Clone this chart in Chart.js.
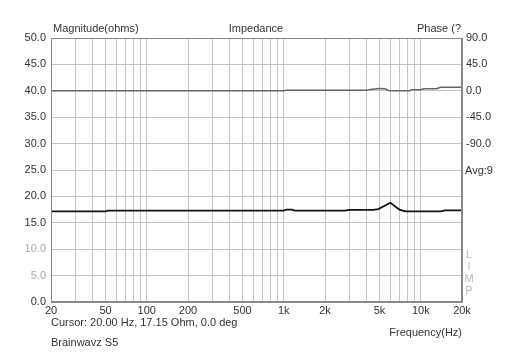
<!DOCTYPE html>
<html>
<head>
<meta charset="utf-8">
<script src="https://cdn.jsdelivr.net/npm/chart.js@4"></script>
<style>
  html, body { margin: 0; padding: 0; background: #fff; }
  #wrap { width: 512px; height: 358px; }
</style>
</head>
<body>
<div id="wrap"><canvas id="chart" width="512" height="358"></canvas></div>
<script>
// values
const magFreq = [20, 50, 52, 1000, 1050, 1150, 1200, 2800, 3000, 4500, 4900, 6000, 7000, 7700, 14000, 15000, 20000];
const magOhm  = [17.15, 17.15, 17.3, 17.3, 17.5, 17.5, 17.3, 17.3, 17.45, 17.45, 17.6, 18.8, 17.5, 17.15, 17.15, 17.35, 17.35];

const phaseFreq = [20, 1000, 1050, 4000, 4300, 5000, 5500, 5900, 8300, 8500, 10000, 10500, 13000, 14000, 20000];
const phaseDeg  = [0, 0, 0.8, 0.8, 2.4, 4, 3.5, 0, 0, 2, 2, 3.5, 3.5, 6, 6];

const gridFreqs = [20, 30, 40, 50, 60, 70, 80, 90, 100, 200, 300, 400, 500, 600, 700, 800, 900,
                   1000, 2000, 3000, 4000, 5000, 6000, 7000, 8000, 9000, 10000, 20000];
const freqLabels = { 20: '20', 50: '50', 100: '100', 200: '200', 500: '500', 1000: '1k',
                     2000: '2k', 5000: '5k', 10000: '10k', 20000: '20k' };
const phaseTicks = [90, 45, 0, -45, -90];

const textColor = '#333';
const font = { family: '"Liberation Sans", Arial, sans-serif', size: 11 };

const extraText = {
    id: 'extraText',
    afterDraw(chart) {
        const ctx = chart.ctx;
        const a = chart.chartArea;
        ctx.save();
        ctx.strokeStyle = '#888';
        ctx.lineWidth = 1;
        ctx.strokeRect(a.left + 0.5, a.top + 0.5, a.right - a.left - 1, a.bottom - a.top - 1);
        ctx.font = '11px "Liberation Sans", Arial, sans-serif';
        ctx.fillStyle = textColor;
        ctx.textBaseline = 'middle';
        ctx.textAlign = 'left';
        ctx.fillText('Magnitude(ohms)', 53, 29);
        ctx.fillText('Cursor: 20.00 Hz, 17.15 Ohm, 0.0 deg', 51, 323);
        ctx.fillText('Brainwavz S5', 51, 343);
        ctx.fillText('Avg:9', 465, 171);
        ctx.textAlign = 'center';
        ctx.fillText('Impedance', 256, 29);
        ctx.textAlign = 'right';
        ctx.fillText('Phase (?', 461, 29);
        ctx.fillText('Frequency(Hz)', 462, 333);
        ctx.textAlign = 'center';
        ctx.fillStyle = '#bbb';
        ['L', 'I', 'M', 'P'].forEach((c, i) => ctx.fillText(c, 469, 255 + i * 12));
        ctx.restore();
    }
};

new Chart(document.getElementById('chart'), {
    type: 'line',
    data: {
        datasets: [{
            label: 'Phase',
            data: phaseFreq.map((f, i) => ({ x: f, y: phaseDeg[i] })),
            yAxisID: 'y1',
            borderColor: '#666',
            borderWidth: 1.5,
            pointRadius: 0,
            tension: 0
        }, {
            label: 'Magnitude',
            data: magFreq.map((f, i) => ({ x: f, y: magOhm[i] })),
            yAxisID: 'y',
            borderColor: '#111',
            borderWidth: 1.8,
            pointRadius: 0,
            tension: 0
        }]
    },
    options: {
        responsive: false,
        animation: false,
        layout: { padding: { top: 38, left: 0, right: 0, bottom: 0 } },
        plugins: { legend: { display: false }, tooltip: { enabled: false } },
        scales: {
            x: {
                type: 'logarithmic',
                min: 20,
                max: 20000,
                afterBuildTicks: s => { s.ticks = gridFreqs.map(v => ({ value: v })); },
                afterFit: s => { s.height = 56; },
                grid: { color: '#c4c4c4', drawTicks: false },
                border: { color: '#888' },
                ticks: {
                    autoSkip: false,
                    maxRotation: 0,
                    padding: 2,
                    color: textColor,
                    font,
                    callback: v => freqLabels[v] || ''
                }
            },
            y: {
                position: 'left',
                min: 0,
                max: 50,
                afterFit: s => { s.width = 51; },
                grid: { color: '#c4c4c4', drawTicks: false },
                border: { color: '#888' },
                ticks: {
                    stepSize: 5,
                    padding: 5,
                    font,
                    color: c => (c.tick.value === 5 || c.tick.value === 10) ? '#aaa' : textColor,
                    callback: v => v.toFixed(1)
                }
            },
            y1: {
                position: 'right',
                min: -360,
                max: 90,
                afterFit: s => { s.width = 50; },
                grid: { display: false, drawTicks: false },
                border: { color: '#888' },
                ticks: {
                    stepSize: 45,
                    padding: 4,
                    font,
                    color: textColor,
                    callback: v => phaseTicks.includes(v) ? v.toFixed(1) : ''
                }
            }
        }
    },
    plugins: [extraText]
});
</script>
</body>
</html>
